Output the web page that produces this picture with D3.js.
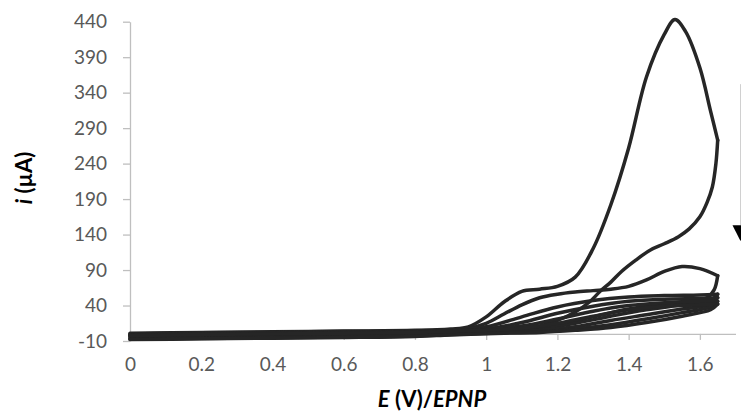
<!DOCTYPE html>
<html>
<head>
<meta charset="utf-8">
<script src="https://cdn.jsdelivr.net/npm/d3@7"></script>
<style>
  html, body { margin: 0; padding: 0; background: #fff; }
  svg { display: block; }
</style>
</head>
<body>
<svg id="chart" width="741" height="414"></svg>
<script>
// ---- tick labels ----
const ticksE = [0, 0.2, 0.4, 0.6, 0.8, 1.0, 1.2, 1.4, 1.6];
const ticksI = [-10, 40, 90, 140, 190, 240, 290, 340, 390, 440];

// ---- cycle 1 (large anodic peak) ----
const cycle1E = [0, 0.2, 0.4, 0.6, 0.8, 0.9, 0.95, 1.0, 1.05, 1.1, 1.15, 1.2, 1.25, 1.3, 1.35, 1.4, 1.45, 1.5, 1.53, 1.56, 1.6, 1.63, 1.65,
                 1.645, 1.635, 1.62, 1.6, 1.57, 1.54, 1.5, 1.46, 1.42, 1.38, 1.35, 1.32, 1.29, 1.25, 1.2, 1.15, 1.1, 1.0, 0.9, 0.8, 0.6, 0.4, 0.2, 0];
const cycle1I = [1, 2, 3, 4, 5, 7, 10, 24, 45, 60, 63, 67, 80, 120, 182, 262, 362, 422, 443, 426, 375, 314, 273,
                 240, 207, 185, 165, 148, 137, 127, 118, 104, 88, 73, 60, 45, 31, 19, 11, 6, 2, 0, -1, -1.5, -2, -2.5, -3];

// ---- cycle 2 ----
const cycle2E = [0, 0.2, 0.4, 0.6, 0.8, 0.9, 0.95, 1.0, 1.05, 1.1, 1.15, 1.2, 1.25, 1.3, 1.35, 1.4, 1.45, 1.5, 1.55, 1.6, 1.65,
                 1.64, 1.62, 1.58, 1.5, 1.4, 1.3, 1.2, 1.1, 1.0, 0.9, 0.8, 0.6, 0.4, 0.2, 0];
const cycle2I = [0, 1.5, 2.5, 3.5, 4.5, 6, 8, 15, 28, 41, 51, 56, 59, 61, 63, 67, 76, 88, 95, 92, 82,
                 62, 51, 47, 42, 35, 24, 13, 6, 2, 0, -1.5, -2.5, -3, -3.5, -4];

// ---- cycles 3 to 6 (shared potential sweep) ----
const cycle3to6E = [0, 0.2, 0.4, 0.6, 0.8, 0.9, 1.0, 1.1, 1.2, 1.3, 1.4, 1.5, 1.6, 1.65,
                    1.63, 1.55, 1.45, 1.35, 1.25, 1.15, 1.05, 0.9, 0.8, 0.6, 0.4, 0.2, 0];
const cycle3I = [-1, 0.5, 1.5, 2.5, 3.5, 5, 10, 24, 38, 47, 52, 54, 55, 56, 47, 41, 34, 25, 15, 7, 3, 0, -2, -3.5, -4.5, -5, -5.5];
const cycle4I = [-1.5, 0, 1, 2, 3, 4.5, 7, 16, 29, 39, 46, 49, 50, 51, 42, 35, 27, 19, 10, 5, 2, -0.5, -2.5, -4, -5, -6, -6.5];
const cycle5I = [-2, -0.5, 0.5, 1.5, 2.5, 4, 6, 11, 21, 32, 40, 44, 46, 46, 38, 30, 21, 13, 7, 3, 1.5, -1, -3, -4.5, -5.5, -6.5, -7.5];
const cycle6I = [-2.5, -1, 0, 1, 2, 3.5, 5, 8, 15, 25, 34, 39, 41, 42, 34, 25, 16, 9, 5, 2, 1, -1.5, -3.5, -5, -6, -7, -8];

// ---- arrow annotation at right edge (E, i) ----
const arrowE = 1.714;
const arrowShaftI = [352, 153];
const arrowHeadI = [153, 131];

const cycles = [
  [cycle1E, cycle1I], [cycle2E, cycle2I],
  [cycle3to6E, cycle3I], [cycle3to6E, cycle4I], [cycle3to6E, cycle5I], [cycle3to6E, cycle6I]
];

const svg = d3.select("#chart");
const x = d3.scaleLinear().domain([0, 1.7]).range([130, 735.5]);
const y = d3.scaleLinear().domain([-10, 440]).range([341, 21.7]);

const axisColor = "#bfbfbf";
const textColor = "#595959";
const font = "Lato, 'Open Sans', sans-serif";

// X axis (crosses at i = 0)
const gx = svg.append("g")
  .attr("transform", `translate(0,${y(0)})`)
  .call(d3.axisBottom(x).tickValues(ticksE).tickSize(6).tickSizeOuter(0).tickPadding(18)
        .tickFormat(d => String(+d.toFixed(1))));
gx.select(".domain").attr("stroke", axisColor).attr("stroke-width", 1.3);
gx.selectAll(".tick line").attr("stroke", axisColor).attr("stroke-width", 1.3);
gx.selectAll(".tick text").attr("fill", textColor).style("font-family", font).style("font-size", "19px");

// Y axis (crosses at E = 0)
const gy = svg.append("g")
  .attr("transform", `translate(${x(0)},0)`)
  .call(d3.axisLeft(y).tickValues(ticksI).tickSize(7).tickSizeOuter(0).tickPadding(16)
        .tickFormat(d => String(d)));
gy.select(".domain").attr("stroke", axisColor).attr("stroke-width", 1.3);
gy.selectAll(".tick line").attr("stroke", axisColor).attr("stroke-width", 1.3);
gy.selectAll(".tick text").attr("fill", textColor).style("font-family", font).style("font-size", "19px");

// curves
const line = d3.line()
  .x(d => x(d[0])).y(d => y(d[1]))
  .curve(d3.curveCatmullRom.alpha(0.5));

const gc = svg.append("g");
cycles.forEach(([E, I]) => {
  const pts = E.map((e, k) => [e, I[k]]);
  let vi = 0;
  pts.forEach((p, k) => { if (p[0] > pts[vi][0]) vi = k; });
  const fwd = pts.slice(0, vi + 1);
  const rev = pts.slice(vi);
  [fwd, rev].forEach(seg => {
    gc.append("path").attr("d", line(seg))
      .attr("fill", "none").attr("stroke", "#262626")
      .attr("stroke-width", 3.5).attr("stroke-linejoin", "round").attr("stroke-linecap", "round");
  });
});

// axis titles
const xt = svg.append("text")
  .attr("x", 432).attr("y", 407).attr("text-anchor", "middle")
  .style("font-family", font).style("font-size", "22px").style("font-weight", "bold").attr("fill", "#000");
xt.append("tspan").style("font-style", "italic").text("E");
xt.append("tspan").text(" (V)/");
xt.append("tspan").style("font-style", "italic").text("EPNP");

const yt = svg.append("text")
  .attr("transform", "translate(32,178) rotate(-90)").attr("text-anchor", "middle")
  .style("font-family", font).style("font-size", "22px").style("font-weight", "bold").attr("fill", "#000");
yt.append("tspan").style("font-style", "italic").text("i");
yt.append("tspan").text(" (µA)");

// arrow annotation
svg.append("line")
  .attr("x1", x(arrowE)).attr("x2", x(arrowE))
  .attr("y1", y(arrowShaftI[0])).attr("y2", y(arrowShaftI[1]))
  .attr("stroke", "#d0d0d0").attr("stroke-width", 1);
const ax = x(arrowE);
svg.append("path")
  .attr("d", `M${ax - 8},${y(arrowHeadI[0])}L${ax + 8},${y(arrowHeadI[0])}L${ax},${y(arrowHeadI[1])}Z`)
  .attr("fill", "#000");
</script>
</body>
</html>
